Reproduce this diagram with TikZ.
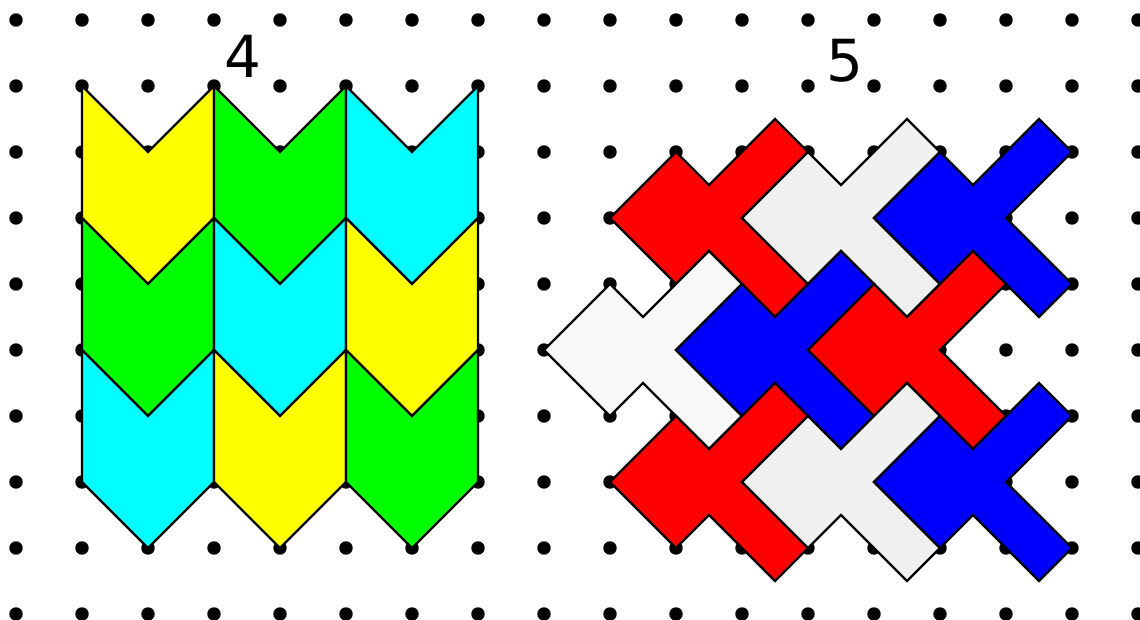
\documentclass[tikz,border=0pt]{standalone}
\usepackage{fontspec}
\setmainfont{DejaVu Sans}
\definecolor{cyel}{RGB}{255,255,0}
\definecolor{cgrn}{RGB}{0,255,0}
\definecolor{ccya}{RGB}{0,255,255}
\definecolor{cred}{RGB}{255,0,0}
\definecolor{cblu}{RGB}{0,0,255}
\definecolor{lgray}{RGB}{240,240,240}
\definecolor{vlgray}{RGB}{248,248,248}
\tikzset{
  shapeline/.style={draw=black, line width=1pt, line join=miter},
  cross/.pic={\path[pic actions] (0,0) -- (1,-1) -- (1.5,-0.5) -- (2.5,-1.5) -- (3,-1) -- (2,0) -- (3,1) -- (2.5,1.5) -- (1.5,0.5) -- (1,1) -- cycle;},
  chev/.pic={\path[pic actions] (0,0) -- (1,1) -- (2,0) -- (2,2) -- (1,3) -- (0,2) -- cycle;},
  biglabel/.style={font=\fontsize{25}{30}\selectfont, inner sep=0pt}
}
\begin{document}
\begin{tikzpicture}[x=1cm,y=-1cm]
\useasboundingbox[fill=white] (-0.2424,-0.303) rectangle (17.0303,9.0909);
% dot grid
\foreach \c in {0,...,17}
  \foreach \r in {0,...,9}
    \fill[black] (\c,\r) circle (2.9pt);
% labels
\node[biglabel] (lab4) at (3.44,0.55) {4};
\node[biglabel] (lab5) at (12.56,0.62) {5};
% figure 4: chevrons
\pic[shapeline, fill=cyel] at (1,1) {chev};
\pic[shapeline, fill=cgrn] at (1,3) {chev};
\pic[shapeline, fill=ccya] at (1,5) {chev};
\pic[shapeline, fill=cgrn] at (3,1) {chev};
\pic[shapeline, fill=ccya] at (3,3) {chev};
\pic[shapeline, fill=cyel] at (3,5) {chev};
\pic[shapeline, fill=ccya] at (5,1) {chev};
\pic[shapeline, fill=cyel] at (5,3) {chev};
\pic[shapeline, fill=cgrn] at (5,5) {chev};
% figure 5: crosses
\pic[shapeline, fill=cred]   at (9,3)  {cross};
\pic[shapeline, fill=lgray]  at (11,3) {cross};
\pic[shapeline, fill=cblu]   at (13,3) {cross};
\pic[shapeline, fill=vlgray] at (8,5)  {cross};
\pic[shapeline, fill=cblu]   at (10,5) {cross};
\pic[shapeline, fill=cred]   at (12,5) {cross};
\pic[shapeline, fill=cred]   at (9,7)  {cross};
\pic[shapeline, fill=lgray]  at (11,7) {cross};
\pic[shapeline, fill=cblu]   at (13,7) {cross};
\end{tikzpicture}
\end{document}
